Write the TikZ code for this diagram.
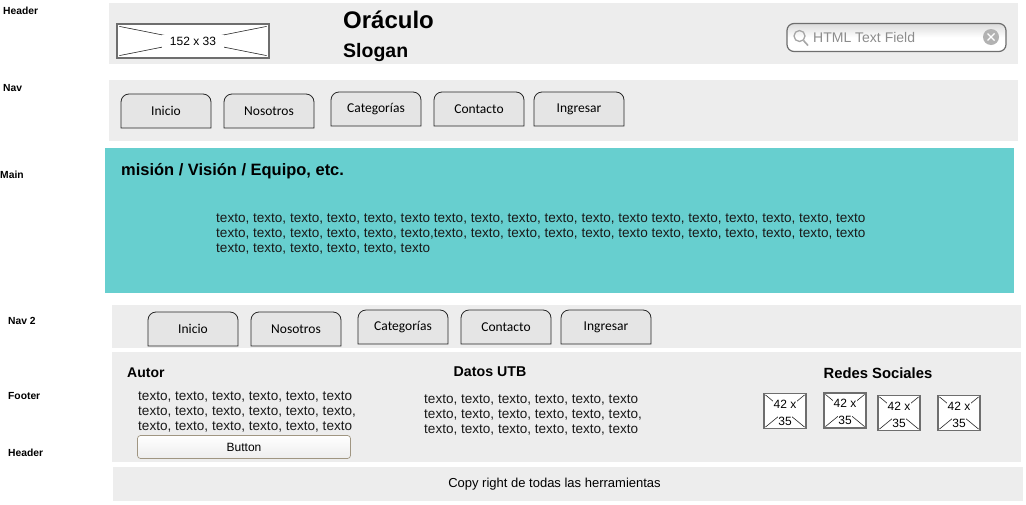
\documentclass[tikz,border=0pt]{standalone}
\usepackage{fontspec}
\setmainfont{Liberation Sans}
\newfontfamily\handfont{Carlito}
\usetikzlibrary{positioning}
\definecolor{bandgray}{RGB}{237,237,237}
\definecolor{tabgray}{RGB}{229,229,229}
\definecolor{mainteal}{RGB}{103,207,207}
\definecolor{framegray}{RGB}{110,110,110}
\definecolor{buttonedge}{RGB}{160,150,130}
\tikzset{
  band/.style={fill=bandgray,draw=none},
  sidelabel/.style={font=\fontsize{10.3}{12}\selectfont\bfseries,anchor=west,inner sep=0pt},
  tabshape/.style={draw=black!85,line width=0.8pt,fill=tabgray},
  navtab/.style={inner sep=0pt,font=\handfont\fontsize{13.5}{16}\selectfont},
  bodytext/.style={font=\fontsize{13.55}{15}\selectfont,align=left,anchor=north west,inner sep=0pt,text=black!90},
  heading/.style={inner sep=0pt},
  imgbox/.style={draw=framegray,line width=1.2pt,fill=white,inner sep=0pt},
  crossline/.style={black!85,line width=0.6pt},
  imgtext/.style={fill=white,inner sep=0.5pt,font=\fontsize{12}{14}\selectfont},
}
\begin{document}
\begin{tikzpicture}[x=1pt,y=-1pt]
  \useasboundingbox (0,0) rectangle (1026,504);

  % bands
  \fill[band] (109,3) rectangle (1018,64);
  \fill[band] (109,80) rectangle (1018,141);
  \fill[mainteal] (105,148) rectangle (1014,293);
  \fill[band] (112,305) rectangle (1021,348);
  \fill[band] (112,352) rectangle (1021,462);
  \fill[band] (113,467) rectangle (1023,501);

  % side labels
  \node[sidelabel] (lblheader) at (3,10.5) {Header};
  \node[sidelabel] (lblnav) at (3,88) {Nav};
  \node[sidelabel] (lblmain) at (0,175) {Main};
  \node[sidelabel] (lblnavb) at (8,321) {Nav 2};
  \node[sidelabel] (lblfooter) at (8,396) {Footer};
  \node[sidelabel] (lblheaderb) at (8,453) {Header};

  % header
  \node[imgbox,minimum width=152pt,minimum height=34pt] (logo) at (193,41) {};
  \draw[crossline] ([shift={(3,3)}]logo.north west) -- ([shift={(-3,-3)}]logo.south east);
  \draw[crossline] ([shift={(3,-3)}]logo.south west) -- ([shift={(-3,3)}]logo.north east);
  \node[imgtext,minimum width=62pt,minimum height=13pt] (logotext) at (193,41) {152 x 33};
  \node[font=\fontsize{24}{28}\selectfont\bfseries,anchor=west,inner sep=0pt] (title) at (343,19.5) {Oráculo};
  \node[font=\fontsize{19.5}{23}\selectfont\bfseries,anchor=west,inner sep=0pt] (slogan) at (343,52) {Slogan};

  % search field
  \node[draw=framegray,line width=1.2pt,rounded corners=7pt,top color=black!14,bottom color=white,middle color=white,minimum width=219pt,minimum height=28pt,inner sep=0pt] (search) at (896.5,37.5) {};
  \node[anchor=west,inner sep=0pt,text=black!45,font=\fontsize{14}{16}\selectfont] (searchtext) at (813,37) {HTML Text Field};
  \draw[black!35,line width=1.3pt] (799.5,36) circle (5.5pt);
  \draw[black!35,line width=1.6pt] (803.5,40.5) -- (808,45.5);
  \node[circle,fill=black!30,minimum size=16pt,inner sep=0pt] (clear) at (991,37) {};
  \draw[white,line width=1.1pt] (987.5,33.5) -- (994.5,40.5) (987.5,40.5) -- (994.5,33.5);

  % nav
  \foreach \name/\xx/\yy/\txt in {a/166/111/Inicio,b/269/111/Nosotros,c/376/109/Categorías,d/479/109/Contacto,e/579/109/Ingresar} {
    \draw[tabshape] (\xx-45,\yy+17) [rounded corners=8pt] -- (\xx-45,\yy-17) -- (\xx+45,\yy-17) [sharp corners] -- (\xx+45,\yy+17) -- cycle;
    \node[navtab] (nav\name) at (\xx,\yy) {\txt};
  }

  % main
  \node[font=\fontsize{16.45}{19}\selectfont\bfseries,anchor=west,inner sep=0pt] (maintitle) at (121,171.5) {misión / Visión / Equipo, etc.};
  \node[bodytext] (maintext) at (216,214) {texto, texto, texto, texto, texto, texto texto, texto, texto, texto, texto, texto texto, texto, texto, texto, texto, texto\\
    texto, texto, texto, texto, texto, texto,texto, texto, texto, texto, texto, texto texto, texto, texto, texto, texto, texto\\
    texto, texto, texto, texto, texto, texto};

  % nav 2
  \foreach \name/\xx/\yy/\txt in {a/193/329/Inicio,b/296/329/Nosotros,c/403/327/Categorías,d/506/327/Contacto,e/606/327/Ingresar} {
    \draw[tabshape] (\xx-45,\yy+17) [rounded corners=8pt] -- (\xx-45,\yy-17) -- (\xx+45,\yy-17) [sharp corners] -- (\xx+45,\yy+17) -- cycle;
    \node[navtab] (navb\name) at (\xx,\yy) {\txt};
  }

  % footer
  \node[heading,anchor=west,font=\fontsize{14}{16}\selectfont\bfseries] (autor) at (127,372.5) {Autor};
  \node[bodytext] (autortext) at (138,392) {texto, texto, texto, texto, texto, texto\\
    texto, texto, texto, texto, texto, texto,\\
    texto, texto, texto, texto, texto, texto};
  \node[draw=buttonedge,line width=0.7pt,rounded corners=3pt,top color=white,bottom color=bandgray,minimum width=213pt,minimum height=23pt,inner sep=0pt,font=\fontsize{12}{14}\selectfont] (button) at (244,447) {Button};
  \node[heading,font=\fontsize{14.2}{16}\selectfont\bfseries] (datos) at (490,372) {Datos UTB};
  \node[bodytext] (datostext) at (424,395) {texto, texto, texto, texto, texto, texto\\
    texto, texto, texto, texto, texto, texto,\\
    texto, texto, texto, texto, texto, texto};
  \node[heading,font=\fontsize{14.8}{16}\selectfont\bfseries] (redes) at (878,373) {Redes Sociales};

  \foreach \name/\xx/\yy in {a/785/411,b/845/410.5,c/899/413,d/959/413} {
    \node[imgbox,minimum width=42pt,minimum height=35pt] (red\name) at (\xx,\yy) {};
    \draw[crossline] ([shift={(2,2)}]red\name.north west) -- ([shift={(-2,-2)}]red\name.south east);
    \draw[crossline] ([shift={(2,-2)}]red\name.south west) -- ([shift={(-2,2)}]red\name.north east);
    \fill[white] ([shift={(-10,-5)}]red\name.center) rectangle ([shift={(10,5)}]red\name.center);
    \node[imgtext] (redtop\name) at ([shift={(0,-7)}]red\name.center) {42 x};
    \node[imgtext] (redbot\name) at ([shift={(0,10)}]red\name.center) {35};
  }

  \node[font=\fontsize{13}{15}\selectfont,inner sep=0pt] (copy) at (554.5,484) {Copy right de todas las herramientas};
\end{tikzpicture}
\end{document}
